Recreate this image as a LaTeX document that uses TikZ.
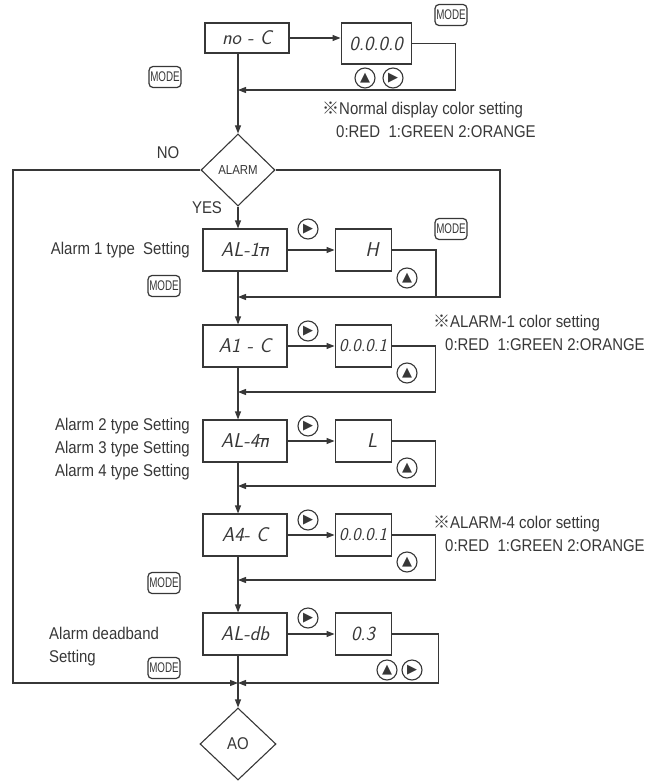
\documentclass[tikz,border=0pt]{standalone}
\usepackage{fontspec}
\setmainfont{Liberation Sans}
\newfontfamily\labelfont[FakeStretch=0.88]{Liberation Sans}
\newfontfamily\modefont[FakeStretch=0.7]{Liberation Sans}
\newfontfamily\symfont{DejaVu Sans}
\newfontfamily\cjk{Noto Sans CJK SC}
\newcommand{\segfont}{\sffamily\slshape}
\newcommand{\segbar}[1]{\ensuremath{\overline{\mbox{#1}}}}
\usepackage{tikz}
\usetikzlibrary{shapes.geometric, arrows.meta, positioning}
\definecolor{linegray}{RGB}{55,55,55}

\begin{document}
\begin{tikzpicture}[x=1pt, y=-1pt,
    node distance=49pt,
    disp/.style={
        rectangle,
        draw=linegray,
        line width=1.1pt,
        minimum height=42pt,
        minimum width=84pt,
        inner sep=0pt,
        text=linegray,
        font=\segfont\fontsize{20}{20}\selectfont
    },
    value/.style={disp, minimum width=56pt},
    decision/.style={
        diamond,
        draw=linegray,
        line width=1.1pt,
        minimum width=74pt,
        minimum height=72pt,
        inner sep=0pt,
        text=linegray
    },
    modekey/.style={
        rectangle,
        draw=linegray,
        line width=1.2pt,
        rounded corners=4pt,
        minimum height=21pt,
        minimum width=32pt,
        inner sep=1pt,
        text=linegray,
        font=\modefont\fontsize{14}{14}\selectfont
    },
    btn/.style={circle, draw=linegray, line width=1.1pt, minimum size=20pt, inner sep=0pt, text=linegray, font=\symfont\fontsize{13}{13}\selectfont},
    lbl/.style={inner sep=0pt, text=linegray, font=\labelfont\fontsize{17}{23}\selectfont},
    flow/.style={draw=linegray, line width=1.1pt, -{Triangle[length=8pt, width=6pt]}},
    wire/.style={draw=linegray, line width=1.1pt}
]
    \useasboundingbox (0,0) rectangle (648,781);

    % display boxes
    \node[disp, minimum height=30pt] (noc) at (247,38) {no - C};
    \node[disp, minimum width=70pt, minimum height=41pt, right=51pt of noc, yshift=-5.5pt] (v0) {0.0.0.0};
    \node[decision, font=\labelfont\fontsize{13}{13}\selectfont] (alarm) at (238,170) {ALARM};
    \node[disp] (al1n) at (245,250) {AL-1\segbar{n}};
    \node[value, right=47pt of al1n] (vh) {\hspace*{18pt}H};
    \node[disp] (a1c) at (245,346) {A1 - C};
    \node[value, right=47pt of a1c, font=\segfont\fontsize{18}{18}\selectfont] (v1) {0.0.0.1};
    \node[disp] (al4n) at (245,441) {AL-4\segbar{n}};
    \node[value, right=47pt of al4n] (vl) {\hspace*{18pt}L};
    \node[disp] (a4c) at (245,535) {A4- C};
    \node[value, right=47pt of a4c, font=\segfont\fontsize{18}{18}\selectfont] (v4) {0.0.0.1};
    \node[disp] (aldb) at (245,634) {AL-db};
    \node[value, right=47pt of aldb] (v3) {0.3};
    \node[decision, minimum width=76pt, font=\labelfont\fontsize{17}{17}\selectfont] (ao) at (238,744) {AO};

    % keys
    \node[modekey] (m0a) at (451,15) {MODE};
    \node[modekey] (m0b) at (165,77) {MODE};
    \node[btn] (k0u) at (365,78) {▲};
    \node[btn] (k0r) at (393,78) {▶};
    \node[btn] (k1r) at (308,229) {▶};
    \node[btn] (k1u) at (407,278) {▲};
    \node[modekey] (m1a) at (451,229) {MODE};
    \node[modekey] (m1b) at (164,286) {MODE};
    \node[btn] (k2r) at (308,331) {▶};
    \node[btn] (k2u) at (407,373) {▲};
    \node[btn] (k3r) at (308,426) {▶};
    \node[btn] (k3u) at (407,468) {▲};
    \node[btn] (k4r) at (308,520) {▶};
    \node[btn] (k4u) at (407,562) {▲};
    \node[modekey] (m4) at (164,583) {MODE};
    \node[btn] (k5r) at (308,618) {▶};
    \node[btn] (k5u) at (387,670) {▲};
    \node[btn] (k5s) at (412,670) {▶};
    \node[modekey] (m5) at (164,668) {MODE};

    % texts
    \node[lbl] (no) at (168,153) {NO};
    \node[lbl] (yes) at (207,208) {YES};
    \node[lbl, anchor=west, align=left] (n0) at (322,120) {{\cjk ※}Normal display color setting\\\hspace*{14pt}0:RED\ \ 1:GREEN 2:ORANGE};
    \node[lbl, anchor=west, align=left] (n1) at (433,333) {{\cjk ※}ALARM-1 color setting\\\hspace*{12pt}0:RED\ \ 1:GREEN 2:ORANGE};
    \node[lbl, anchor=west, align=left] (n4) at (433,534) {{\cjk ※}ALARM-4 color setting\\\hspace*{12pt}0:RED\ \ 1:GREEN 2:ORANGE};
    \node[lbl, anchor=east] (t1) at (190,250) {Alarm 1 type\ \ Setting};
    \node[lbl, anchor=east, align=left] (t2) at (190,449) {Alarm 2 type Setting\\Alarm 3 type Setting\\Alarm 4 type Setting};
    \node[lbl, anchor=west, align=left] (t5) at (49,647) {Alarm deadband\\Setting};

    % junctions
    \coordinate (j0) at (238,90);
    \coordinate (j1) at (238,297);
    \coordinate (j2) at (238,392);
    \coordinate (j3) at (238,486);
    \coordinate (j4) at (238,580);
    \coordinate (j5) at (238,683);
    \coordinate (o1) at (500,297);
    \coordinate (o5) at (13,683);

    % connectors
    \draw[flow] (noc.east) -- (noc.east -| v0.west);
    \draw[flow] (v0.east) -- ++(44,0) |- (j0);
    \draw[flow] (noc.south -| j0) -- (alarm.north);
    \draw[flow] (alarm.south) -- (alarm.south |- al1n.north);
    \draw[flow] (alarm.east) -| (o1) -- (j1);
    \draw[flow] (alarm.west) -| (o5) -- (j5);

    \draw[flow] (al1n.east) -- (vh.west);
    \draw[wire] (vh.east) -| (j1 -| 436,0);
    \draw[flow] (j1 |- al1n.south) -- (j1 |- a1c.north);

    \draw[flow] (a1c.east) -- (v1.west);
    \draw[flow] (v1.east) -- ++(44,0) |- (j2);
    \draw[flow] (j2 |- a1c.south) -- (j2 |- al4n.north);

    \draw[flow] (al4n.east) -- (vl.west);
    \draw[flow] (vl.east) -- ++(44,0) |- (j3);
    \draw[flow] (j3 |- al4n.south) -- (j3 |- a4c.north);

    \draw[flow] (a4c.east) -- (v4.west);
    \draw[flow] (v4.east) -- ++(44,0) |- (j4);
    \draw[flow] (j4 |- a4c.south) -- (j4 |- aldb.north);

    \draw[flow] (aldb.east) -- (v3.west);
    \draw[flow] (v3.east) -- ++(47,0) |- (j5);
    \draw[flow] (j5 |- aldb.south) -- (ao.north);
\end{tikzpicture}
\end{document}
